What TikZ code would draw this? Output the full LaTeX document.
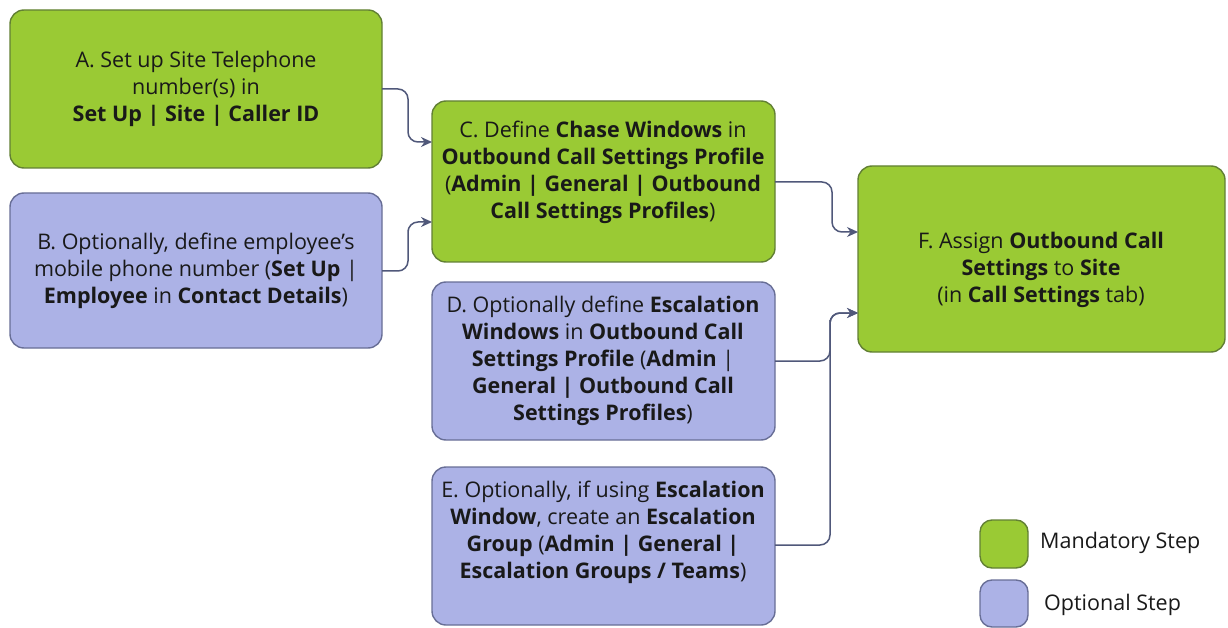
\documentclass[tikz,border=0pt]{standalone}
\usepackage{fontspec}
\setmainfont{Open Sans}
\usetikzlibrary{arrows.meta}
\definecolor{mandfill}{RGB}{154,202,52}
\definecolor{manddraw}{RGB}{98,128,52}
\definecolor{optfill}{RGB}{172,178,230}
\definecolor{optdraw}{RGB}{104,110,150}
\definecolor{linkcol}{RGB}{80,88,122}
\definecolor{txt}{RGB}{25,25,25}
\tikzset{
  stepbox/.style={draw, line width=1.4pt, rounded corners=14pt, inner sep=0pt},
  mand/.style={stepbox, fill=mandfill, draw=manddraw},
  opt/.style={stepbox, fill=optfill, draw=optdraw},
  label/.style={align=center, text=txt, inner sep=0pt, font=\fontsize{21.5}{27}\selectfont},
  legtext/.style={anchor=west, text=txt, inner sep=0pt, font=\fontsize{21.5}{27}\selectfont},
  conn/.style={draw=linkcol, line width=1.5pt, rounded corners=10pt, -{Stealth[length=11pt,width=10pt]}}
}
\begin{document}
\begin{tikzpicture}[x=1pt,y=-1pt]
\useasboundingbox (0,0) rectangle (1228,628);
% step boxes
\draw[mand] (10,10) rectangle (382,168) node[midway] (A) {};
\draw[opt] (10,193) rectangle (382,348) node[midway] (B) {};
\draw[mand] (432,101) rectangle (775,262) node[midway] (C) {};
\draw[opt] (432,282) rectangle (775,440) node[midway] (D) {};
\draw[opt] (432,467) rectangle (775,625) node[midway] (E) {};
\draw[mand] (858,166) rectangle (1225,352) node[midway] (F) {};
% named anchors on the box edges
\coordinate (Ae) at (382,89);
\coordinate (Be) at (382,271);
\coordinate (Cw1) at (432,142);
\coordinate (Cw2) at (432,222);
\coordinate (Ce) at (775,182);
\coordinate (De) at (775,361);
\coordinate (Ee) at (775,545);
\coordinate (Fw1) at (858,232);
\coordinate (Fw2) at (858,313);
% texts
\node[label] (At) at (196,89) {A. Set up Site Telephone\\number(s) in\\\textbf{Set Up | Site | Caller ID}};
\node[label] (Bt) at (196,271) {B. Optionally, define employee's\\mobile phone number (\textbf{Set Up} |\\\textbf{Employee} in \textbf{Contact Details})};
\node[label] (Ct) at (603,172) {C. Define \textbf{Chase Windows} in\\\textbf{Outbound Call Settings Profile}\\(\textbf{Admin | General | Outbound}\\\textbf{Call Settings Profiles})};
\node[label] (Dt) at (603,361) {D. Optionally define \textbf{Escalation}\\\textbf{Windows} in \textbf{Outbound Call}\\\textbf{Settings Profile} (\textbf{Admin} |\\\textbf{General | Outbound Call}\\\textbf{Settings Profiles})};
\node[label] (Et) at (603,532) {E. Optionally, if using \textbf{Escalation}\\\textbf{Window}, create an \textbf{Escalation}\\\textbf{Group} (\textbf{Admin | General |}\\\textbf{Escalation Groups / Teams})};
\node[label] (Ft) at (1041,270) {F. Assign \textbf{Outbound Call}\\\textbf{Settings} to \textbf{Site}\\(in \textbf{Call Settings} tab)};
% connectors
\draw[conn] (Ae) -| (408,120) |- (Cw1);
\draw[conn] (Be) -| (408,240) |- (Cw2);
\draw[conn] (Ce) -| (832,210) |- (Fw1);
\draw[conn] (De) -| (830,330) |- (Fw2);
\draw[conn] (Ee) -| (830,330) |- (Fw2);
% legend
\draw[mand, rounded corners=12pt] (980,520) rectangle (1028,568) node[midway] (Lm) {};
\draw[opt, rounded corners=12pt] (980,580) rectangle (1028,627) node[midway] (Lo) {};
\node[legtext] (LmT) at (1040,543) {Mandatory Step};
\node[legtext] (LoT) at (1044,605) {Optional Step};
\end{tikzpicture}
\end{document}
